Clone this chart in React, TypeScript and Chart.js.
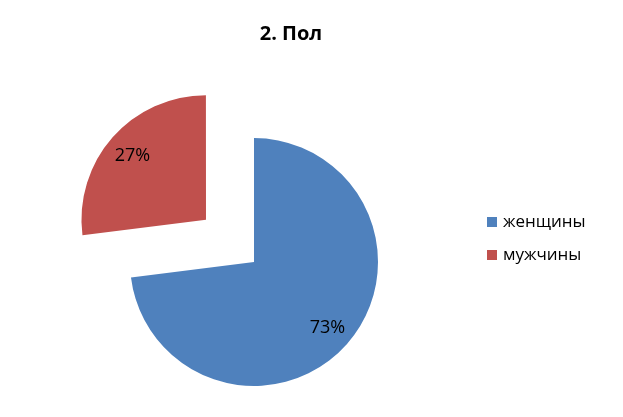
import React, { useEffect, useRef } from "react";
import { Chart, registerables } from "chart.js";

Chart.register(...registerables);

const titleText = "2. Пол";
const categories = ["женщины", "мужчины"];
const values = [73, 27];
const colors = ["#4F81BD", "#C0504D"];
// Chart.js draws an arc shifted by offset / 4
const offsets = [0, 256];

const FONT = "'Open Sans', 'Noto Sans', sans-serif";

const overlayPlugin = {
  id: "overlay",
  afterDatasetsDraw(chart: any) {
    const ctx = chart.ctx as CanvasRenderingContext2D;
    const meta = chart.getDatasetMeta(0);
    const total = values.reduce((a, b) => a + b, 0);
    ctx.save();
    // data labels
    ctx.fillStyle = "#000";
    ctx.font = `18px ${FONT}`;
    ctx.textAlign = "center";
    ctx.textBaseline = "middle";
    meta.data.forEach((arc: any, i: number) => {
      const p = arc.getProps(["x", "y", "startAngle", "endAngle", "outerRadius"], true);
      const mid = (p.startAngle + p.endAngle) / 2;
      const d = offsets[i] / 4 + p.outerRadius * 0.79;
      const x = p.x + Math.cos(mid) * d;
      const y = p.y + Math.sin(mid) * d;
      ctx.fillText(Math.round((values[i] / total) * 100) + "%", x, y + 1);
    });
    // title
    ctx.font = `bold 20px ${FONT}`;
    ctx.fillText(titleText, 291, 34);
    // legend
    ctx.font = `17px ${FONT}`;
    ctx.textAlign = "left";
    categories.forEach((c, i) => {
      const y = 222 + i * 33;
      ctx.fillStyle = colors[i];
      ctx.fillRect(487, y - 5, 10, 10);
      ctx.fillStyle = "#000";
      ctx.fillText(c, 503, y);
    });
    ctx.restore();
  },
};

export default function App() {
  const ref = useRef<HTMLCanvasElement>(null);
  useEffect(() => {
    const chart = new Chart(ref.current!, {
      type: "pie",
      data: {
        labels: categories,
        datasets: [
          {
            data: values,
            backgroundColor: colors,
            borderWidth: 0,
            offset: offsets,
            clip: false as any,
          },
        ],
      },
      options: {
        animation: false,
        responsive: false,
        radius: 124,
        layout: { padding: { left: 0, right: 115, top: 108, bottom: 1 } },
        plugins: {
          legend: { display: false },
          title: { display: false },
          tooltip: { enabled: false },
        },
      } as any,
      plugins: [overlayPlugin],
    });
    return () => chart.destroy();
  }, []);
  return (
    <div style={{ position: "fixed", left: 0, top: 0, width: 623, height: 417, background: "#fff" }}>
      <canvas ref={ref} width={623} height={417} style={{ width: 623, height: 417 }} />
    </div>
  );
}
